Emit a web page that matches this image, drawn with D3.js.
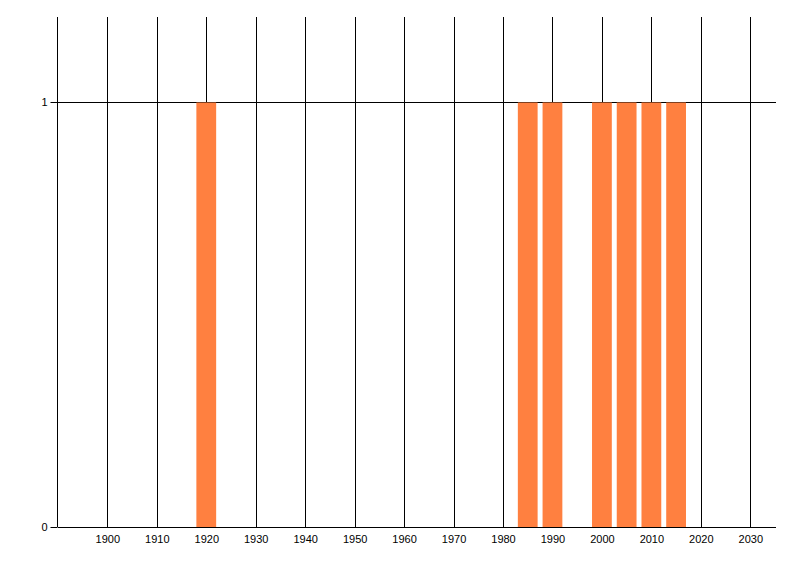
<!DOCTYPE html>
<html><head><meta charset="utf-8">
<script src="https://cdn.jsdelivr.net/npm/d3@7"></script>
<style>body{margin:0;background:#fff}svg{display:block}</style>
</head><body>
<svg id="c" width="800" height="576"></svg>
<script>
const years = [1920, 1985, 1990, 2000, 2005, 2010, 2015];
const values = [1, 1, 1, 1, 1, 1, 1];
const xTicks = [1900, 1910, 1920, 1930, 1940, 1950, 1960, 1970, 1980, 1990, 2000, 2010, 2020, 2030];
const yTicks = [0, 1];
const barWidthYears = 4;

const svg = d3.select("#c");
const L = 57.9, R = 776, T = 17, B = 527;
const x = d3.scaleLinear().domain([1890, 2035.2]).range([L, R]);
const y = d3.scaleLinear().domain([0, 1.2]).range([B, T]);
const font = "'Liberation Sans', Arial, sans-serif";

// vertical grid
svg.append("g").selectAll("line").data(xTicks).join("line")
  .attr("x1", d => Math.round(x(d)) + 0.5).attr("x2", d => Math.round(x(d)) + 0.5)
  .attr("y1", T).attr("y2", B).attr("stroke", "#000").attr("stroke-width", 1);

// horizontal grid
svg.append("g").selectAll("line").data(yTicks.filter(d => d > 0)).join("line")
  .attr("x1", L).attr("x2", R)
  .attr("y1", d => Math.round(y(d)) + 0.5).attr("y2", d => Math.round(y(d)) + 0.5)
  .attr("stroke", "#000");

// bars
svg.append("g").selectAll("rect").data(years).join("rect")
  .attr("x", d => x(d - barWidthYears / 2))
  .attr("width", d => x(d + barWidthYears / 2) - x(d - barWidthYears / 2))
  .attr("y", (d, i) => y(values[i]) + 0.5)
  .attr("height", (d, i) => y(0) - y(values[i]))
  .attr("fill", "#FF8040");

// axes
const xAxis = d3.axisBottom(x).tickValues(xTicks).tickSize(0).tickPadding(8).tickFormat(d3.format("d"));
const gx = svg.append("g").attr("transform", `translate(0,${B + 0.5})`).call(xAxis);
gx.select(".domain").attr("d", `M${L},0H${R}`).attr("stroke", "#000");
gx.selectAll("text").attr("font-family", font).attr("font-size", 11).attr("fill", "#000");

const yAxis = d3.axisLeft(y).tickValues(yTicks).tickSize(7).tickPadding(3).tickFormat(d3.format("d"));
const gy = svg.append("g").attr("transform", `translate(${Math.round(L) + 0.5 - 1},0)`).call(yAxis);
gy.select(".domain").attr("d", `M0,${T}V${B}`).attr("stroke", "#000");
gy.selectAll(".tick line").attr("stroke", "#000");
gy.selectAll("text").attr("font-family", font).attr("font-size", 11).attr("fill", "#000");
</script>
</body></html>
